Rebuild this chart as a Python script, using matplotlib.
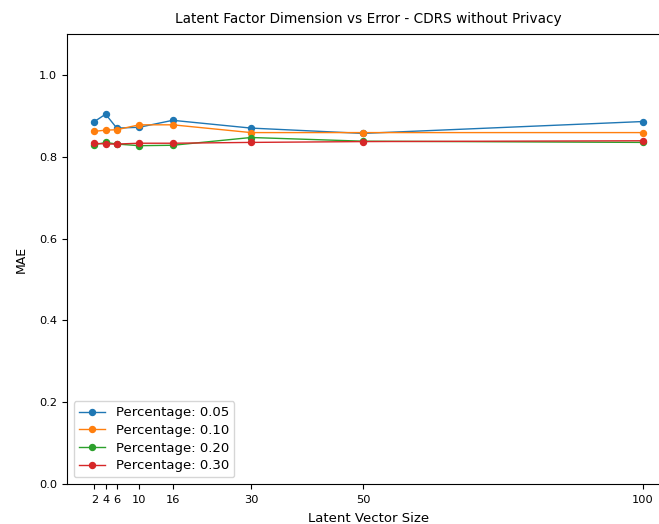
import matplotlib
matplotlib.use("Agg")
import matplotlib.pyplot as plt

latent_sizes = [2, 4, 6, 10, 16, 30, 50, 100]
percentages = ["0.05", "0.10", "0.20", "0.30"]
mae_005 = [0.886, 0.904, 0.870, 0.872, 0.889, 0.870, 0.857, 0.886]
mae_010 = [0.862, 0.865, 0.866, 0.878, 0.878, 0.859, 0.859, 0.859]
mae_020 = [0.829, 0.835, 0.831, 0.827, 0.828, 0.847, 0.838, 0.835]
mae_030 = [0.833, 0.831, 0.831, 0.833, 0.833, 0.835, 0.837, 0.839]
series = [mae_005, mae_010, mae_020, mae_030]

W, H, DPI = 659, 524, 100
plt.rcParams.update({
    "xtick.labelsize": 8.2,
    "ytick.labelsize": 8.2,
    "xtick.major.pad": 4.5,
    "axes.labelsize": 9.5,
    "legend.fontsize": 9.5,
    "legend.labelspacing": 0.35,
    "axes.linewidth": 0.8,
})
fig = plt.figure(figsize=(W / DPI, H / DPI), dpi=DPI)
left, bottom, top = 67, 40, 34
ax = fig.add_axes([left / W, bottom / H, 603 / W, (H - bottom - top) / H])

for pct, vals in zip(percentages, series):
    ax.plot(latent_sizes, vals, marker="o", markersize=4.3, linewidth=1.0,
            label=f"Percentage: {pct}")

ax.set_xlim(-2.9, 104.9)
ax.set_ylim(0, 1.1)
ax.set_xticks(latent_sizes)
ax.set_xticklabels([str(v) for v in latent_sizes])
ax.set_xlabel("Latent Vector Size", labelpad=5)
ax.set_ylabel("MAE", fontsize=9, labelpad=8.5)
ax.set_title("Latent Factor Dimension vs Error - CDRS without Privacy",
             fontsize=9.8, pad=8)
ax.legend(loc="lower left")

fig.savefig("out.png", dpi=DPI)
